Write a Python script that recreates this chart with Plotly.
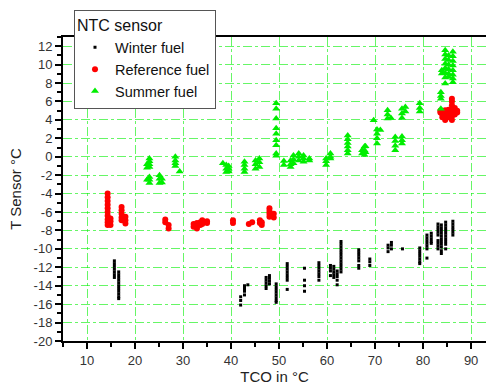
import plotly.graph_objects as go

# ---- Data ----
winter_cols = [15.7, 16.6, 42.0, 42.8, 43.5, 47.3, 48.0, 49.4, 51.7, 55.3, 58.3,
               60.7, 61.4, 62.1, 62.9, 66.6, 68.9, 72.7, 73.4, 75.7, 79.3, 80.8,
               81.7, 83.1, 83.8, 84.7, 86.2]
winter_vals = [
    [-11.3, -11.6, -11.9, -12.2, -12.5, -12.8, -13.1],
    [-12.5, -12.8, -13.1, -13.4, -13.7, -14.0, -14.3, -14.6, -14.9, -15.2, -15.4],
    [-15.2, -15.6, -16.1],
    [-14.0, -14.3, -14.6, -15.0],
    [-13.9],
    [-13.1, -13.4, -13.7, -14.0, -14.3],
    [-12.9, -13.2, -13.5, -13.8],
    [-13.8, -14.1, -14.4, -14.7, -15.0, -15.3, -15.6, -15.8],
    [-11.6, -11.9, -12.2, -12.5, -12.8, -13.1, -13.4, -14.4],
    [-12.1, -13.4, -14.0, -14.6],
    [-11.5, -11.8, -12.1, -12.4, -12.7, -13.0, -13.4],
    [-11.8, -12.1, -12.4, -12.9],
    [-11.9, -12.2, -12.5, -12.8, -13.1],
    [-12.4, -12.7, -13.0, -13.4, -13.9],
    [-9.2, -9.5, -9.8, -10.1, -10.4, -10.7, -11.0, -11.3, -11.6, -11.9, -12.2, -12.5],
    [-10.1, -10.4, -10.7, -11.0, -11.3, -11.8, -12.1],
    [-11.1, -11.4, -11.8],
    [-9.6, -9.9, -10.3],
    [-9.3, -9.6, -10.0],
    [-10.0],
    [-9.9, -10.2, -10.5, -10.8, -11.1, -11.4, -11.6],
    [-8.5, -8.8, -9.1, -9.4, -9.7, -10.0, -11.0],
    [-8.3, -8.6, -8.9, -9.2, -9.4],
    [-7.3, -7.6, -7.9, -8.2, -8.5, -9.1, -9.4, -9.7, -10.0],
    [-7.4, -7.7, -8.0, -8.3, -8.6, -8.9, -9.2, -9.5, -9.8, -10.2, -10.5],
    [-7.1, -7.4, -7.7, -8.0, -8.3, -8.6, -8.9, -9.2, -9.5, -10.0],
    [-7.0, -7.3, -7.6, -7.9, -8.2, -8.5],
]

reference_cols = [14.3, 14.9, 17.2, 18.0, 26.3, 27.0, 32.2, 32.9, 33.6, 34.0, 35.0,
                  40.4, 43.7, 44.4, 46.0, 46.4, 48.0, 48.9,
                  83.6, 84.0, 84.6, 85.3, 86.0, 86.6, 87.1]
reference_vals = [
    [-4.0, -4.4, -4.8, -5.2, -5.6, -6.0, -6.4, -6.8, -7.1, -7.4],
    [-6.7, -7.0, -7.4],
    [-5.45, -5.8, -6.2, -6.6, -6.9],
    [-6.5, -6.9, -7.25],
    [-6.8, -7.1],
    [-7.4, -7.8],
    [-7.6, -7.3],
    [-7.2, -7.5, -7.8],
    [-7.1, -7.4],
    [-6.9, -7.3],
    [-7.0, -7.2],
    [-6.9, -7.2],
    [-7.3],
    [-7.1],
    [-6.9, -7.2],
    [-7.1, -7.4],
    [-5.6, -5.9, -6.2, -6.5],
    [-6.2, -6.6],
    [4.8, 5.0],
    [4.3, 4.6, 5.0],
    [4.0, 4.4, 4.8, 5.05],
    [4.3, 4.7, 5.1],
    [4.0, 4.4, 4.8, 5.2, 5.6, 6.0, 6.3],
    [4.6, 5.0, 5.3],
    [4.8, 5.0],
]

summer_cols = [22.5, 23.0, 25.1, 25.6, 28.4, 29.3, 38.3, 39.0, 39.5, 42.8, 45.1, 45.9,
               49.4, 51.0, 52.4, 53.0, 54.1, 55.1, 56.3, 59.8, 60.7, 64.3, 67.3, 67.8,
               68.0, 69.7, 70.4, 71.1, 72.6, 73.3, 74.2, 75.6, 76.3, 79.3, 83.7, 83.9,
               84.6, 85.3, 86.2]
summer_vals = [
    [-0.8, -1.2, -2.5],
    [-0.2, -0.5, -0.8, -1.1, -2.2, -2.5, -2.85],
    [-2.0, -2.4, -2.85],
    [-2.4, -2.8],
    [0.0, -0.4, -0.7, -1.0],
    [-1.6],
    [-0.7],
    [-0.9, -1.3, -1.65],
    [-1.0, -1.3, -1.6],
    [-0.55, -0.9, -1.3, -1.65],
    [-0.4, -0.8, -1.3],
    [-0.2, -0.6, -1.1],
    [5.8, 5.2, 4.15, 3.1, 2.5, 1.8, 1.25, 0.35, 0.1],
    [-0.45, -0.9],
    [-0.4, -0.8, -1.1],
    [0.15, -0.3, -0.7],
    [0.35, 0.0, -0.4],
    [0.15, -0.2, -0.55],
    [-0.2, -0.4],
    [-0.2, -0.5, -0.9],
    [0.35, 0.0, -0.2],
    [2.3, 1.9, 1.5, 1.1, 0.7, 0.35],
    [0.7, 0.35],
    [1.1, 0.7, 0.2],
    [1.15, 0.5],
    [3.95],
    [2.95, 2.5, 2.0, 1.45],
    [2.9],
    [5.05, 4.6, 4.15],
    [4.2],
    [2.15, 1.7, 1.2, 0.7],
    [5.2, 4.7, 4.2, 2.2, 1.8, 1.45],
    [5.4, 4.9],
    [5.8, 5.3, 4.9],
    [7.0, 6.6, 6.3, 5.2],
    [9.4, 9.05],
    [11.55, 11.1, 10.6, 10.1, 9.6, 9.1, 8.6, 7.95],
    [11.0, 10.5, 10.0, 9.5, 9.0, 8.65],
    [11.4, 10.9, 10.4, 9.9, 9.4, 8.9, 8.5, 8.1],
]

x_ticks = [10, 20, 30, 40, 50, 60, 70, 80, 90]
y_ticks = [12, 10, 8, 6, 4, 2, 0, -2, -4, -6, -8, -10, -12, -14, -16, -18, -20]
y_tick_labels = ["12", "10", "8", "6", "4", "2", "0", "-2", "-4", "-6", "-8",
                 "-10", "-12", "-14", "-16", "-18", "-20"]


def flatten(cols, vals):
    xs, ys = [], []
    for c, vs in zip(cols, vals):
        for v in vs:
            xs.append(c)
            ys.append(v)
    return xs, ys


wx, wy = flatten(winter_cols, winter_vals)
rx, ry = flatten(reference_cols, reference_vals)
sx, sy = flatten(summer_cols, summer_vals)

fig = go.Figure()
fig.add_trace(go.Scatter(x=wx, y=wy, mode="markers", name="Winter fuel",
                         marker=dict(symbol="square", size=3, color="black",
                                     line=dict(width=0))))
fig.add_trace(go.Scatter(x=rx, y=ry, mode="markers", name="Reference fuel",
                         marker=dict(symbol="circle", size=6, color="#ff0000",
                                     line=dict(width=0))))
fig.add_trace(go.Scatter(x=sx, y=sy, mode="markers", name="Summer fuel",
                         marker=dict(symbol="triangle-up", size=7, color="#00ee00",
                                     line=dict(width=0))))

grid = dict(showgrid=True, gridcolor="rgba(0,240,0,0.6)", gridwidth=1,
            griddash="dashdot")

fig.update_layout(
    width=486, height=385,
    margin=dict(l=63, r=0, t=37, b=44),
    paper_bgcolor="white", plot_bgcolor="white",
    font=dict(family="Arial, Liberation Sans, sans-serif", color="#222", size=13),
    showlegend=True,
    legend=dict(
        title=dict(text="NTC sensor", font=dict(size=16, color="#111")),
        x=0.026, y=1.09, xanchor="left", yanchor="top",
        bgcolor="white", bordercolor="#555", borderwidth=1,
        font=dict(size=14.5, color="#111"),
        itemsizing="trace", tracegroupgap=0,
    ),
    xaxis=dict(
        range=[5, 93.1], tickvals=x_ticks, ticks="outside", ticklen=6,
        tickwidth=2, tickcolor="black", showline=True, linecolor="black",
        linewidth=2, mirror=True, zeroline=False,
        minor=dict(dtick=5, ticks="outside", ticklen=4, tickwidth=2,
                   tickcolor="black", showgrid=False),
        title=dict(text="TCO in °C", font=dict(size=15), standoff=18),
        tickfont=dict(size=13, color="#333"), automargin=False,
        **grid,
    ),
    yaxis=dict(
        range=[-20, 13], tickvals=y_ticks, ticktext=y_tick_labels,
        ticks="outside", ticklen=6, tickwidth=2, tickcolor="black",
        showline=True, linecolor="black", linewidth=2, zeroline=False,
        minor=dict(dtick=1, ticks="outside", ticklen=4, tickwidth=2,
                   tickcolor="black", showgrid=False),
        title=dict(text="T Sensor °C", font=dict(size=15), standoff=8),
        tickfont=dict(size=13, color="#333"), automargin=False,
        **grid,
    ),
)

fig.write_html("out.html")
